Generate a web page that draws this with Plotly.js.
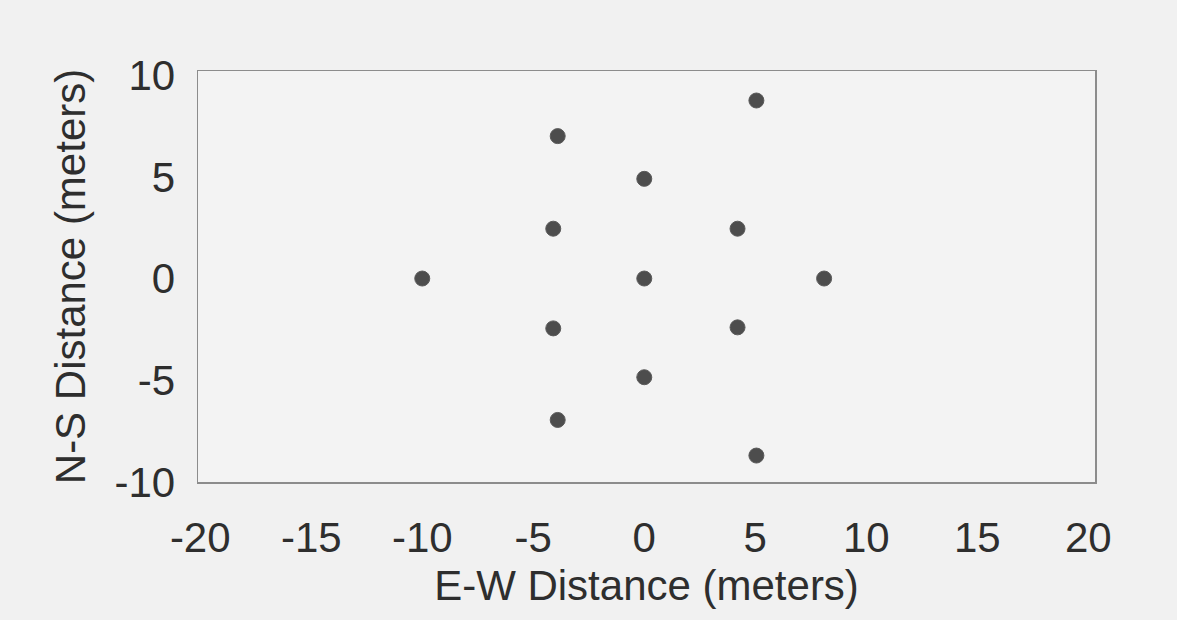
<!DOCTYPE html>
<html>
<head>
<meta charset="utf-8">
<script src="https://cdn.plot.ly/plotly-3.0.1.min.js"></script>
<style>html,body{margin:0;padding:0;background:#f1f1f1;}#chart{width:1177px;height:620px;}</style>
</head>
<body>
<div id="chart"></div>
<script>
// Station positions (meters)
var ewDistance = [-10, -3.9, -3.9, -4.1, -4.1, 0, 0, 0, 4.2, 4.2, 5.05, 5.05, 8.1];
var nsDistance = [0, 7.0, -6.95, 2.45, -2.45, 4.9, 0, -4.85, 2.45, -2.4, 8.75, -8.7, 0];
var xTicks = [-20, -15, -10, -5, 0, 5, 10, 15, 20];
var yTicks = [-10, -5, 0, 5, 10];

var trace = {
  x: ewDistance,
  y: nsDistance,
  mode: 'markers',
  type: 'scatter',
  marker: {symbol: 'circle', size: 15, color: '#4d4d4d', line: {color: '#5a5a5a', width: 1}},
  hoverinfo: 'x+y'
};

var font = 'Liberation Sans, Arial, Helvetica, sans-serif';
var layout = {
  width: 1177, height: 620,
  paper_bgcolor: '#f1f1f1',
  plot_bgcolor: '#f3f3f3',
  showlegend: false,
  margin: {l: 198, r: 82, t: 71, b: 138},
  font: {family: font, color: '#2e2e2e', size: 42},
  xaxis: {
    range: [-20.1, 20.3],
    tickvals: xTicks,
    ticktext: xTicks.map(String),
    showgrid: false, zeroline: false,
    showline: true, mirror: true, linecolor: '#8c8c8c', linewidth: 1.5,
    ticks: '', ticklabelstandoff: 18,
    tickfont: {family: font, size: 42, color: '#2e2e2e'},
    title: {text: 'E-W Distance (meters)', font: {family: font, size: 42, color: '#2e2e2e'}, standoff: 10},
    automargin: false
  },
  yaxis: {
    range: [-10, 10.2],
    tickvals: yTicks,
    ticktext: yTicks.map(String),
    showgrid: false, zeroline: false,
    showline: true, mirror: true, linecolor: '#8c8c8c', linewidth: 1.5,
    ticks: '', ticklabelstandoff: 13,
    tickfont: {family: font, size: 42, color: '#2e2e2e'},
    title: {text: 'N-S Distance (meters)', font: {family: font, size: 42, color: '#2e2e2e'}, standoff: 15},
    automargin: false
  }
};

Plotly.newPlot('chart', [trace], layout, {displayModeBar: false, staticPlot: true});
</script>
</body>
</html>
